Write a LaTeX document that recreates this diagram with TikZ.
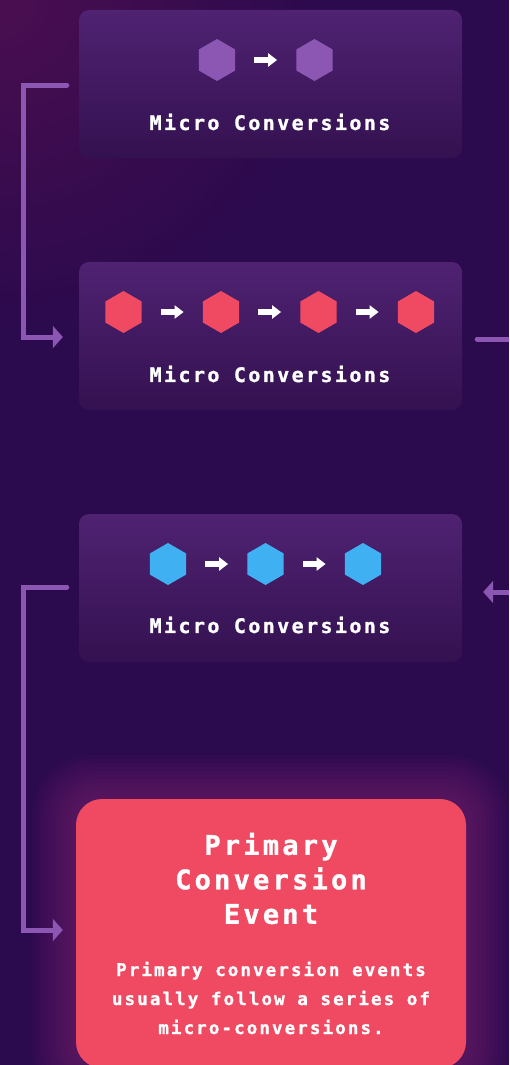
\documentclass[tikz,border=0pt]{standalone}
\usepackage{fontspec}
\newfontfamily\diagfont{DejaVu Sans Mono}[LetterSpace=12, BoldFont={DejaVu Sans Mono Bold}, BoldFeatures={FakeBold=1.2}]
\usetikzlibrary{shapes.geometric, arrows.meta, positioning}
\definecolor{mybg}{RGB}{43,10,77}
\definecolor{mybgcorner}{RGB}{74,14,80}
\definecolor{myboxtop}{RGB}{79,34,114}
\definecolor{myboxbottom}{RGB}{52,17,80}
\definecolor{mypurple}{RGB}{139,87,179}
\definecolor{myred}{RGB}{239,74,98}
\definecolor{myblue}{RGB}{63,177,242}
\definecolor{myglow}{RGB}{150,40,125}
\newcommand{\hexstep}{97.5}
\newcommand{\widthstage}{383pt}
\newcommand{\heightstage}{148pt}
\tikzset{
    stage/.style={rectangle, rounded corners=10pt, minimum width=\widthstage, minimum height=\heightstage, top color=myboxtop, bottom color=myboxbottom, inner sep=0pt},
    primary/.style={rectangle, rounded corners=26pt, fill=myred, minimum width=390pt, minimum height=269pt, inner sep=0pt},
    hex/.style={regular polygon, regular polygon sides=6, shape border rotate=30, minimum size=42pt, inner sep=0pt},
    hexpurple/.style={hex, fill=mypurple},
    hexred/.style={hex, fill=myred},
    hexblue/.style={hex, fill=myblue},
    steparrow/.style={white, line width=6pt, -{Triangle[length=9pt, width=13pt]}, shorten <=19pt, shorten >=19pt},
    loopline/.style={mypurple, line width=5pt, line cap=round, -{Triangle[length=10pt, width=22pt]}},
    caption/.style={text=white, font=\diagfont\bfseries\fontsize{20pt}{24pt}\selectfont},
    title/.style={text=white, align=center, font=\diagfont\bfseries\fontsize{27pt}{34.5pt}\selectfont},
    body/.style={text=white, align=center, font=\diagfont\bfseries\fontsize{17.5pt}{29pt}\selectfont}
}
\begin{document}
\begin{tikzpicture}[x=1pt, y=-1pt]
    \useasboundingbox (0,0) rectangle (509,1065);
    \clip (0,0) rectangle (509,1065);
    % background
    \fill[mybg] (0,0) rectangle (509,1065);
    \shade[inner color=mybgcorner, outer color=mybg] (0,0) circle (330);

    % stages
    \node[stage] (stage1) at (270.5,84) {};
    \node[stage] (stage2) at (270.5,336) {};
    \node[stage] (stage3) at (270.5,588) {};

    % glow round the primary event
    \coordinate (glowsw) at (76,1068);
    \coordinate (glowne) at (466,799);
    \foreach \g in {1,...,11}
        \fill[myglow, opacity=0.05, rounded corners=26pt+\g*3pt] ([shift={(-\g*4,\g*4)}]glowsw) rectangle ([shift={(\g*4,-\g*4)}]glowne);
    \node[primary] (event) at (271,933.5) {};

    % hexagon rows
    \path (217,60)
        node[hexpurple] (p1) {}
        to ++(0:\hexstep) node[hexpurple] (p2) {};
    \path (123.5,312)
        node[hexred] (r1) {}
        to ++(0:\hexstep) node[hexred] (r2) {}
        to ++(0:\hexstep) node[hexred] (r3) {}
        to ++(0:\hexstep) node[hexred] (r4) {};
    \path (168,564)
        node[hexblue] (b1) {}
        to ++(0:\hexstep) node[hexblue] (b2) {}
        to ++(0:\hexstep) node[hexblue] (b3) {};

    \draw[steparrow] (p1) -- (p2);
    \draw[steparrow] (r1) -- (r2);
    \draw[steparrow] (r2) -- (r3);
    \draw[steparrow] (r3) -- (r4);
    \draw[steparrow] (b1) -- (b2);
    \draw[steparrow] (b2) -- (b3);

    % labels
    \node[caption] (cap1) at (270,122) {Micro Conversions};
    \node[caption] (cap2) at (270,374) {Micro Conversions};
    \node[caption] (cap3) at (270,625) {Micro Conversions};
    \node[title] (eventtitle) at (271,878.5) {Primary\\Conversion\\Event};
    \node[body] (eventtext) at (271,998) {Primary conversion events\\usually follow a series of\\micro-conversions.};

    % loops between the stages
    \draw[loopline] ([shift={(-12,1)}]stage1.west) -- ++(-43.5,0) |- ([shift={(-16,1)}]stage2.west);
    \draw[loopline] ([shift={(15,3)}]stage2.east) -- ++(60,0) |- ([shift={(21,4)}]stage3.east);
    \draw[loopline] ([shift={(-12,-1)}]stage3.west) -- ++(-43.5,0) |- ([shift={(-13,-3.5)}]event.west);
\end{tikzpicture}
\end{document}
